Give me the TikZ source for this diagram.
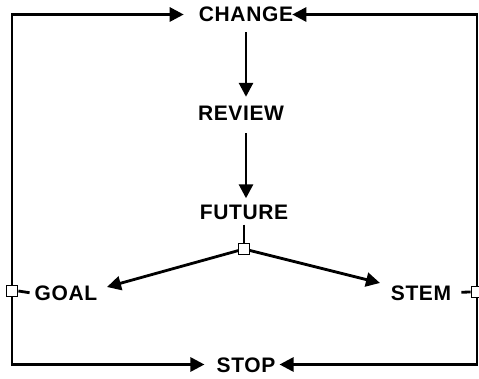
\documentclass[tikz,border=0pt]{standalone}
\usepackage{fontspec}
\setmainfont{Liberation Sans}[LetterSpace=3]
\usetikzlibrary{arrows.meta}
\begin{document}
\begin{tikzpicture}[x=1pt,y=-1pt,
  lbl/.style={font=\fontsize{21}{25}\selectfont\bfseries, inner sep=0pt, text height=15pt, text depth=0pt},
  conn/.style={line width=2.8pt},
  arr/.style={conn, -{Triangle[length=14pt,width=14pt]}},
  junction/.style={draw, line width=1.8pt, fill=white, minimum size=11pt, inner sep=0pt}]
\useasboundingbox (0,0) rectangle (479,379);
% labels
\node[lbl] (change) at (246,14.5) {CHANGE};
\node[lbl] (review) at (241,113.5) {REVIEW};
\node[lbl] (future) at (244,212) {FUTURE};
\node[lbl] (goal) at (66,293.5) {GOAL};
\node[lbl] (stem) at (421,292.5) {STEM};
\node[lbl] (stop) at (246,364.5) {STOP};
% junction squares
\node[junction] (lsq) at (12,291) {};
\node[junction] (rsq) at (477,292) {};
\coordinate (sqc) at (244,249);
\coordinate (goaltip) at (107,287);
\coordinate (stemtip) at (380,283);
% central flow
\draw[arr, shorten <=10pt, shorten >=9pt] (change.south -| 246,0) -- (review.north -| 246,0);
\draw[arr, shorten <=12pt, shorten >=6pt] (review.south -| 246,0) -- (future.north -| 246,0);
\draw[arr] (sqc) -- (goaltip);
\draw[arr] (sqc) -- (stemtip);
\node[junction] (sq) at (sqc) {};
\draw[conn, shorten <=5pt] (future.south -| sq.north) -- (sq.north);
% outer loop
\draw[arr, shorten >=15pt] (lsq.north) |- (change.west);
\draw[arr, shorten >=12pt] (lsq.south) |- (stop.west);
\draw[arr, shorten >=-1pt] (rsq.north) |- (change.east);
\draw[arr, shorten >=4pt] (rsq.south) |- (stop.east);
% dashes to side junctions
\draw[conn, shorten >=5pt] (lsq.east) -- (goal.west);
\draw[conn, shorten <=10pt] (stem.east) -- (rsq.west);
\end{tikzpicture}
\end{document}
